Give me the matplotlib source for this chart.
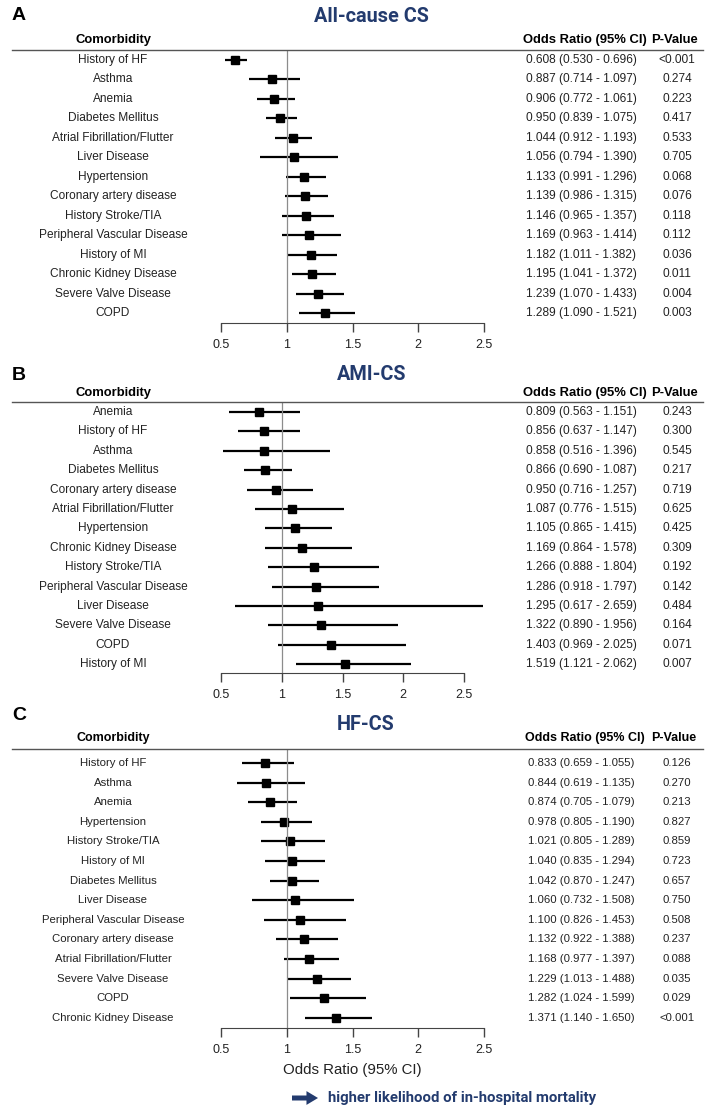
import matplotlib
matplotlib.use("Agg")
import matplotlib.pyplot as plt
import matplotlib.transforms as mtransforms

# --- Data ---
names_a = ["History of HF", "Asthma", "Anemia", "Diabetes Mellitus",
           "Atrial Fibrillation/Flutter", "Liver Disease", "Hypertension",
           "Coronary artery disease", "History Stroke/TIA",
           "Peripheral Vascular Disease", "History of MI",
           "Chronic Kidney Disease", "Severe Valve Disease", "COPD"]
or_a = [0.608, 0.887, 0.906, 0.950, 1.044, 1.056, 1.133, 1.139, 1.146, 1.169, 1.182, 1.195, 1.239, 1.289]
lo_a = [0.530, 0.714, 0.772, 0.839, 0.912, 0.794, 0.991, 0.986, 0.965, 0.963, 1.011, 1.041, 1.070, 1.090]
hi_a = [0.696, 1.097, 1.061, 1.075, 1.193, 1.390, 1.296, 1.315, 1.357, 1.414, 1.382, 1.372, 1.433, 1.521]
p_a = ["<0.001", "0.274", "0.223", "0.417", "0.533", "0.705", "0.068",
       "0.076", "0.118", "0.112", "0.036", "0.011", "0.004", "0.003"]

names_b = ["Anemia", "History of HF", "Asthma", "Diabetes Mellitus",
           "Coronary artery disease", "Atrial Fibrillation/Flutter",
           "Hypertension", "Chronic Kidney Disease", "History Stroke/TIA",
           "Peripheral Vascular Disease", "Liver Disease",
           "Severe Valve Disease", "COPD", "History of MI"]
or_b = [0.809, 0.856, 0.858, 0.866, 0.950, 1.087, 1.105, 1.169, 1.266, 1.286, 1.295, 1.322, 1.403, 1.519]
lo_b = [0.563, 0.637, 0.516, 0.690, 0.716, 0.776, 0.865, 0.864, 0.888, 0.918, 0.617, 0.890, 0.969, 1.121]
hi_b = [1.151, 1.147, 1.396, 1.087, 1.257, 1.515, 1.415, 1.578, 1.804, 1.797, 2.659, 1.956, 2.025, 2.062]
p_b = ["0.243", "0.300", "0.545", "0.217", "0.719", "0.625", "0.425",
       "0.309", "0.192", "0.142", "0.484", "0.164", "0.071", "0.007"]

names_c = ["History of HF", "Asthma", "Anemia", "Hypertension",
           "History Stroke/TIA", "History of MI", "Diabetes Mellitus",
           "Liver Disease", "Peripheral Vascular Disease",
           "Coronary artery disease", "Atrial Fibrillation/Flutter",
           "Severe Valve Disease", "COPD", "Chronic Kidney Disease"]
or_c = [0.833, 0.844, 0.874, 0.978, 1.021, 1.040, 1.042, 1.060, 1.100, 1.132, 1.168, 1.229, 1.282, 1.371]
lo_c = [0.659, 0.619, 0.705, 0.805, 0.805, 0.835, 0.870, 0.732, 0.826, 0.922, 0.977, 1.013, 1.024, 1.140]
hi_c = [1.055, 1.135, 1.079, 1.190, 1.289, 1.294, 1.247, 1.508, 1.453, 1.388, 1.397, 1.488, 1.599, 1.650]
p_c = ["0.126", "0.270", "0.213", "0.827", "0.859", "0.723", "0.657",
       "0.750", "0.508", "0.237", "0.088", "0.035", "0.029", "<0.001"]

ticks = [0.5, 1, 1.5, 2, 2.5]

W, H = 709, 1112
NAVY = "#233b6e"
plt.rcParams['font.family'] = ['Liberation Sans', 'DejaVu Sans']

fig = plt.figure(figsize=(W / 100, H / 100), dpi=100)


def fx(px):
    return px / W


def fy(py):
    return 1 - py / H


def draw_panel(names, ors, los, his, pvals, letter, title, title_x, title_y,
               y_letter, y_header, y_line, y_row0, step, y_axis, scale,
               fs=8.6, hfs=9.4):
    ax = fig.add_axes([0, fy(y_axis), 1, (y_axis - y_line) / H])
    ax.set_xlim(0.5 - 221 / scale, 0.5 + (W - 221) / scale)
    ax.set_ylim((y_axis - y_row0) / step, (y_line - y_row0) / step)
    ax.patch.set_visible(False)

    ypos = list(range(len(names)))
    ax.hlines(ypos, los, his, color="black", lw=1.6, clip_on=False)
    ax.plot(ors, ypos, "s", color="black", ms=5.8, clip_on=False)
    ax.axvline(1, color="#8c8c8c", lw=0.9)
    ax.axhline((y_line - y_row0) / step, xmin=12 / W, xmax=703 / W,
               color="#555555", lw=1, clip_on=False)

    for s in ["top", "right", "left"]:
        ax.spines[s].set_visible(False)
    ax.spines["bottom"].set_bounds(0.5, 2.5)
    ax.spines["bottom"].set_color("#444444")
    ax.set_yticks([])
    ax.set_xticks(ticks)
    ax.set_xticklabels(["0.5", "1", "1.5", "2", "2.5"], fontsize=9, color="#222222")
    ax.tick_params(axis="x", length=6.5, width=1, color="#444444", pad=5)

    tr = mtransforms.blended_transform_factory(fig.transFigure, ax.transData)
    for i, nm in enumerate(names):
        ax.text(fx(113), i, nm, transform=tr, ha="center", va="center",
                fontsize=fs, color="#222222")
        ax.text(fx(581), i, f"{ors[i]:.3f} ({los[i]:.3f} - {his[i]:.3f})",
                transform=tr, ha="center", va="center", fontsize=fs, color="#222222")
        ax.text(fx(677), i, pvals[i], transform=tr, ha="center", va="center",
                fontsize=fs, color="#222222")

    fig.text(fx(113), fy(y_header), "Comorbidity", ha="center", va="center",
             fontsize=hfs, fontweight="bold")
    fig.text(fx(585), fy(y_header), "Odds Ratio (95% CI)", ha="center", va="center",
             fontsize=hfs, fontweight="bold")
    fig.text(fx(674), fy(y_header), "P-Value", ha="center", va="center",
             fontsize=hfs, fontweight="bold")
    fig.text(fx(12), fy(y_letter), letter, ha="left", va="center",
             fontsize=14, fontweight="bold")
    fig.text(fx(title_x), fy(title_y), title, ha="center", va="center",
             fontsize=14.3, fontweight="bold", color=NAVY,
             family=["Roboto", "DejaVu Sans"])
    return ax


draw_panel(names_a, or_a, lo_a, hi_a, p_a, "A", "All-cause CS", 371, 17,
           15, 40, 50, 60, 19.46, 323, 131.5)
draw_panel(names_b, or_b, lo_b, hi_b, p_b, "B", "AMI-CS", 372, 374,
           375, 393, 402, 412, 19.4, 673, 121.5)
ax_c = draw_panel(names_c, or_c, lo_c, hi_c, p_c, "C", "HF-CS", 366, 725,
                  715, 738, 749, 763, 19.6, 1028, 131.5, fs=8.2, hfs=9.0)

fig.text(fx(352), fy(1070), "Odds Ratio (95% CI)", ha="center", va="center",
         fontsize=10.8, color="#222222")
# arrow below the bottom panel
ax_c.annotate("", xy=(fx(318), fy(1098)), xytext=(fx(292), fy(1098)),
              xycoords="figure fraction", textcoords="figure fraction",
              arrowprops=dict(arrowstyle="-|>,head_length=0.3,head_width=0.18",
                              lw=3.6, color=NAVY, shrinkA=0, shrinkB=0,
                              capstyle="butt", joinstyle="miter"))
fig.text(fx(328), fy(1098), "higher likelihood of in-hospital mortality",
         ha="left", va="center", fontsize=10.7, fontweight="bold", color=NAVY,
         family=["Roboto", "DejaVu Sans"])

fig.savefig("out.png", dpi=100)
plt.close(fig)
